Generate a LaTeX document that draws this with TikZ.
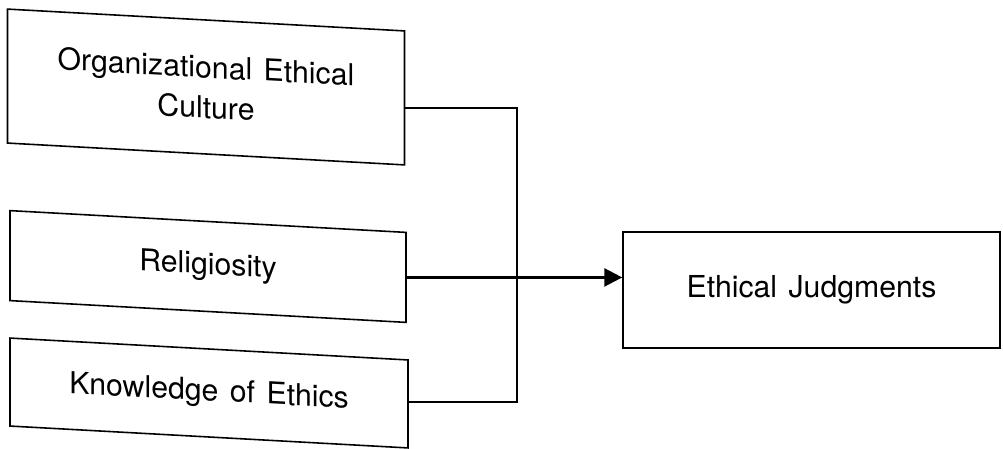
\documentclass[tikz,border=0pt]{standalone}
\usepackage{fontspec}
\setmainfont{TeX Gyre Heros}
\usetikzlibrary{arrows.meta,calc}
\newcommand{\widesp}{\spaceskip=0.38em\relax}
\tikzset{
  basebox/.style={draw, line width=0.9pt, align=center, inner sep=0pt,
    font=\fontsize{17.2}{23}\selectfont, execute at begin node=\widesp},
  slbox/.style={basebox, yslant=-0.055},
  link/.style={draw, line width=0.8pt},
  arrowline/.style={draw, line width=1.5pt, -{Triangle[length=0.36cm,width=0.36cm]}}
}
\begin{document}
\begin{tikzpicture}[x=0.02cm,y=-0.02cm]
\useasboundingbox (0,0) rectangle (1003,449);
\node[slbox, minimum width=7.94cm, minimum height=2.68cm] (b1) at (206,87) {Organizational Ethical\\Culture};
\node[slbox, minimum width=7.92cm, minimum height=1.80cm] (b2) at (208,266.5) {Religiosity};
\node[slbox, minimum width=7.96cm, minimum height=1.76cm] (b3) at (209,393) {Knowledge of Ethics};
\node[basebox, minimum width=7.54cm, minimum height=2.32cm] (ej) at (811.5,290) {Ethical Judgments};
\coordinate (jt) at (517,108);
\coordinate (jb) at (517,402);
\draw[link] (b1.east|-jt) -- (jt) -- (jb) -- (b3.east|-jb);
\draw[arrowline] (b2.east) -- (ej.west|-b2.east);
\end{tikzpicture}
\end{document}
